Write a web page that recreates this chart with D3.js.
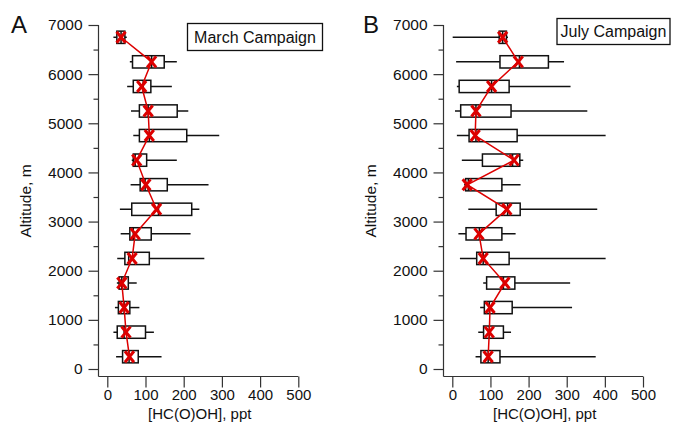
<!DOCTYPE html>
<html>
<head>
<meta charset="utf-8">
<script src="https://cdn.jsdelivr.net/npm/d3@7"></script>
<style>
  html, body { margin: 0; padding: 0; background: #fff; }
  svg { display: block; font-family: "Liberation Sans", Arial, sans-serif; }
</style>
</head>
<body>
<svg id="chart" width="673" height="434"></svg>
<script>
// Altitude bin centres (m)
const altitudes = [250, 750, 1250, 1750, 2250, 2750, 3250, 3750, 4250, 4750, 5250, 5750, 6250, 6750];

// March campaign: [HC(O)OH] statistics per altitude bin (ppt)
const marchLo   = [23, 16, 20, 25, 26, 35, 33, 61, 64, 68, 62, 52, 59, 16];
const marchQ1   = [40, 26, 29, 31, 46, 59, 64, 86, 68, 84, 84, 68, 66, 25];
const marchMed  = [57, 44, 44, 38, 56, 68, 134, 99, 73, 110, 107, 94, 116, 36];
const marchQ3   = [81, 100, 59, 55, 110, 115, 221, 157, 103, 208, 183, 114, 149, 46];
const marchHi   = [142, 122, 84, 77, 254, 218, 241, 265, 182, 293, 212, 169, 182, 51];
const marchMean = [58, 49, 44, 38, 65, 73, 129, 101, 77, 110, 107, 90, 116, 36];

// July campaign
const julyLo   = [61, 68, 73, 81, 20, 16, 42, 31, 25, 12, 7, 12, 10, 1];
const julyQ1   = [75, 82, 84, 90, 64, 36, 115, 35, 79, 44, 22, 18, 125, 123];
const julyMed  = [94, 97, 97, 134, 81, 71, 145, 42, 158, 62, 62, 103, 176, 132];
const julyQ3   = [125, 134, 157, 164, 149, 130, 178, 130, 177, 170, 154, 149, 252, 142];
const julyHi   = [376, 154, 314, 309, 402, 166, 380, 179, 186, 402, 354, 310, 293, 146];
const julyMean = [94, 97, 99, 138, 81, 70, 143, 39, 162, 60, 62, 103, 173, 132];

const xTicks = [0, 100, 200, 300, 400, 500];
const yTicks = [0, 1000, 2000, 3000, 4000, 5000, 6000, 7000];
const yMinorTicks = [500, 1500, 2500, 3500, 4500, 5500, 6500];

const panels = [
  { letter: "A", title: "March Campaign", lo: marchLo, q1: marchQ1, med: marchMed, q3: marchQ3, hi: marchHi, mean: marchMean,
    axisX: 98.5, x0: 107.3, x1: 298.3, letterX: 11, ylabX: 31,
    legend: { x: 187.5, y: 23.5, w: 135, h: 27 } },
  { letter: "B", title: "July Campaign", lo: julyLo, q1: julyQ1, med: julyMed, q3: julyQ3, hi: julyHi, mean: julyMean,
    axisX: 443.5, x0: 452.3, x1: 643, letterX: 363, ylabX: 376,
    legend: { x: 557, y: 18.5, w: 113, h: 26 } }
];

const svg = d3.select("#chart");
const red = "#dd0000";
const axisColor = "#333";
const yTop = 25, yZero = 369, xAxisY = 376.5;
const fontSize = 15;

panels.forEach(p => {
  const x = d3.scaleLinear().domain([0, 500]).range([p.x0, p.x1]);
  const y = d3.scaleLinear().domain([0, 7000]).range([yZero, yTop]);
  const g = svg.append("g");

  // Frame lines (left and bottom)
  g.append("line").attr("x1", p.axisX).attr("x2", p.axisX).attr("y1", y(7000)).attr("y2", xAxisY)
    .attr("stroke", axisColor).attr("stroke-width", 1.2);
  g.append("line").attr("x1", p.axisX).attr("x2", x(500)).attr("y1", xAxisY).attr("y2", xAxisY)
    .attr("stroke", axisColor).attr("stroke-width", 1.2);

  // Y axis: major ticks with labels, minor ticks without
  const yAxis = g.append("g").attr("transform", `translate(${p.axisX},0)`)
    .call(d3.axisLeft(y).tickValues(yTicks).tickSize(10).tickPadding(6).tickFormat(d3.format("d")));
  yAxis.select(".domain").remove();
  yAxis.selectAll(".tick line").attr("stroke", axisColor).attr("stroke-width", 1.2);
  yAxis.selectAll(".tick text").attr("font-size", fontSize + 0.5).attr("fill", "#111")
    .attr("font-family", "Liberation Sans, Arial, sans-serif");
  const yMinor = g.append("g").attr("transform", `translate(${p.axisX},0)`)
    .call(d3.axisLeft(y).tickValues(yMinorTicks).tickSize(5).tickFormat(""));
  yMinor.select(".domain").remove();
  yMinor.selectAll(".tick line").attr("stroke", axisColor).attr("stroke-width", 1.2);

  // X axis
  const xAxis = g.append("g").attr("transform", `translate(0,${xAxisY})`)
    .call(d3.axisBottom(x).tickValues(xTicks).tickSize(11).tickPadding(2).tickFormat(d3.format("d")));
  xAxis.select(".domain").remove();
  xAxis.selectAll(".tick line").attr("stroke", axisColor).attr("stroke-width", 1.2);
  xAxis.selectAll(".tick text").attr("font-size", fontSize).attr("fill", "#111")
    .attr("font-family", "Liberation Sans, Arial, sans-serif");

  // Axis titles
  g.append("text").attr("x", (x(0) + x(500)) / 2 - 3).attr("y", 419).attr("text-anchor", "middle")
    .attr("font-size", fontSize).attr("fill", "#111").text("[HC(O)OH], ppt");
  g.append("text").attr("transform", `translate(${p.ylabX},${y(3500) + 4}) rotate(-90)`)
    .attr("text-anchor", "middle").attr("font-size", fontSize + 0.5).attr("fill", "#111").text("Altitude, m");

  // Panel letter
  g.append("text").attr("x", p.letterX).attr("y", 33).attr("font-size", 24).attr("fill", "#111").text(p.letter);

  // Legend box
  g.append("rect").attr("x", p.legend.x).attr("y", p.legend.y).attr("width", p.legend.w).attr("height", p.legend.h)
    .attr("fill", "#fff").attr("stroke", "#111").attr("stroke-width", 1.3);
  g.append("text").attr("x", p.legend.x + p.legend.w / 2).attr("y", p.legend.y + p.legend.h / 2 + 5.5)
    .attr("text-anchor", "middle").attr("font-size", 16).attr("fill", "#111").text(p.title);

  const half = (y(0) - y(250)) / 2; // half box height in px

  const rows = altitudes.map((a, i) => ({ a, lo: p.lo[i], q1: p.q1[i], med: p.med[i], q3: p.q3[i], hi: p.hi[i], mean: p.mean[i] }));
  const boxes = g.append("g");

  // Whiskers
  boxes.selectAll("line.whisker").data(rows).join("line").attr("class", "whisker")
    .attr("x1", d => x(d.lo)).attr("x2", d => x(d.hi)).attr("y1", d => y(d.a)).attr("y2", d => y(d.a))
    .attr("stroke", "#111").attr("stroke-width", 1.5);
  // Boxes
  boxes.selectAll("rect").data(rows).join("rect")
    .attr("x", d => x(d.q1)).attr("width", d => x(d.q3) - x(d.q1))
    .attr("y", d => y(d.a) - half).attr("height", 2 * half)
    .attr("fill", "#fff").attr("stroke", "#111").attr("stroke-width", 1.5);
  // Medians
  boxes.selectAll("line.median").data(rows).join("line").attr("class", "median")
    .attr("x1", d => x(d.med)).attr("x2", d => x(d.med)).attr("y1", d => y(d.a) - half).attr("y2", d => y(d.a) + half)
    .attr("stroke", "#111").attr("stroke-width", 1.5);

  // Mean profile
  g.append("path").datum(rows)
    .attr("d", d3.line().x(d => x(d.mean)).y(d => y(d.a)))
    .attr("fill", "none").attr("stroke", red).attr("stroke-width", 1.5);

  // Mean markers (X)
  const mx = 4.5, my = 5.5;
  g.append("g").selectAll("path.mark").data(rows).join("path").attr("class", "mark")
    .attr("d", d => `M${x(d.mean) - mx},${y(d.a) - my}L${x(d.mean) + mx},${y(d.a) + my}M${x(d.mean) + mx},${y(d.a) - my}L${x(d.mean) - mx},${y(d.a) + my}`)
    .attr("stroke", red).attr("stroke-width", 3).attr("fill", "none");
});
</script>
</body>
</html>
